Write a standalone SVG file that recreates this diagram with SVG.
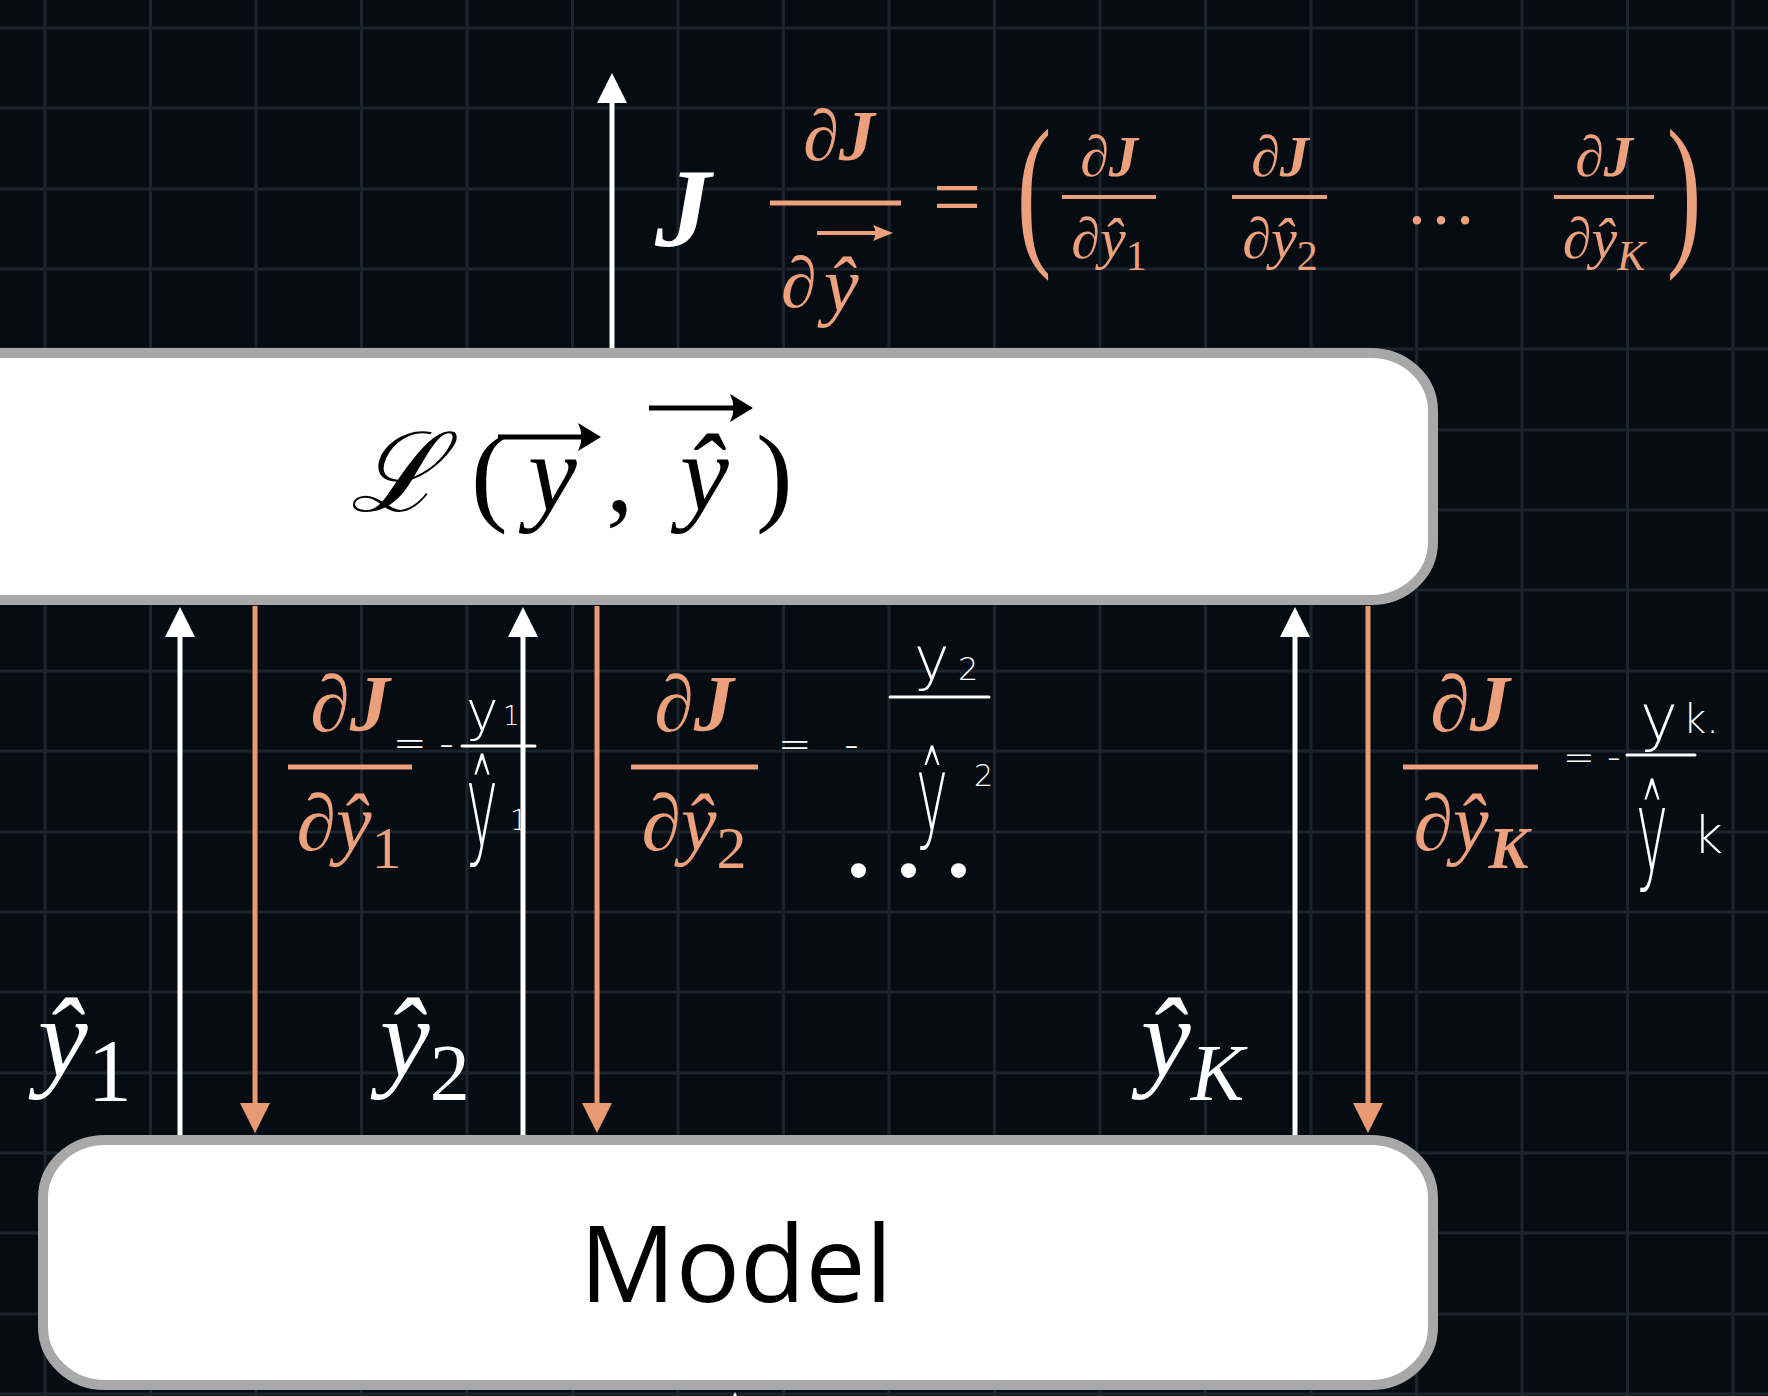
<svg xmlns="http://www.w3.org/2000/svg" width="1768" height="1396" viewBox="0 0 1768 1396">
<defs>
<style>
.bg{fill:#070c13}
.grid{stroke:#1b232c;stroke-width:3;fill:none}
.box{fill:#fff;stroke:#a8a8a8;stroke-width:10}
.wl{stroke:#fff;stroke-width:5;fill:none}
.ol{stroke:#e99a72;stroke-width:5;fill:none}
.m{font-family:"Liberation Serif","DejaVu Serif",serif;font-style:italic}
.up{font-style:normal}
.nb{font-weight:normal}
.or{fill:#eca07c}
.wh{fill:#fff}
.bk{fill:#000}
.b{font-weight:bold}
.bar{stroke:#eca07c;stroke-width:5}
.bar4{stroke:#eca07c;stroke-width:4}
.hw{font-family:"DejaVu Sans","Liberation Sans",sans-serif;font-weight:200;fill:#fff}
.hwl{stroke:#fff;stroke-width:3;stroke-linecap:round;fill:none}
.lbl{font-family:"Open Sans","Liberation Sans",sans-serif}
</style>
<marker id="aw" markerUnits="userSpaceOnUse" markerWidth="30" markerHeight="30" viewBox="0 0 30 30" refX="2" refY="15" orient="auto"><path d="M0,0 L30,15 L0,30 Z" fill="#fff"/></marker>
<marker id="ao" markerUnits="userSpaceOnUse" markerWidth="30" markerHeight="30" viewBox="0 0 30 30" refX="2" refY="15" orient="auto"><path d="M0,0 L30,15 L0,30 Z" fill="#e99a72"/></marker>
</defs>
<rect class="bg" x="0" y="0" width="1768" height="1396"/>
<path class="grid" d="M45,0V1396M150.5,0V1396M256,0V1396M361.5,0V1396M467,0V1396M572.5,0V1396M678,0V1396M783.5,0V1396M889,0V1396M994.5,0V1396M1100,0V1396M1205.5,0V1396M1311,0V1396M1416.5,0V1396M1522,0V1396M1627.5,0V1396M1733,0V1396M0,28H1768M0,108H1768M0,189H1768M0,269H1768M0,349H1768M0,430H1768M0,510H1768M0,590H1768M0,671H1768M0,751H1768M0,832H1768M0,912H1768M0,992H1768M0,1073H1768M0,1153H1768M0,1233H1768M0,1314H1768M0,1394H1768"/>

<g id="connectors">
<path class="wl" d="M612,349V101" marker-end="url(#aw)"/>
<path class="wl" d="M180,1135V635" marker-end="url(#aw)"/>
<path class="wl" d="M523,1135V635" marker-end="url(#aw)"/>
<path class="wl" d="M1295,1135V635" marker-end="url(#aw)"/>
<path class="ol" d="M255,606V1105" marker-end="url(#ao)"/>
<path class="ol" d="M597,606V1105" marker-end="url(#ao)"/>
<path class="ol" d="M1368,606V1105" marker-end="url(#ao)"/>
<path class="wl" d="M735,1500V1420" marker-end="url(#aw)"/>
</g>

<g id="loss">
<rect class="box" x="-60" y="353" width="1493" height="247" rx="62" ry="58"/>
<text class="m bk" y="511" font-size="110"><tspan x="350">ℒ</tspan><tspan class="up" x="471">(</tspan><tspan x="528">y</tspan><tspan class="up" x="606">,</tspan><tspan x="680">ŷ</tspan><tspan class="up" x="756">)</tspan></text>
<path d="M498,437H590" stroke="#000" stroke-width="5"/>
<path d="M601,437L578,423Q585,437 578,451Z" fill="#000"/>
<path d="M649,408H742" stroke="#000" stroke-width="5"/>
<path d="M753,408L730,394Q737,408 730,422Z" fill="#000"/>
</g>

<g id="model">
<rect class="box" x="43" y="1140" width="1390" height="245" rx="62" ry="58"/>
<text class="lbl bk" x="736" y="1302" font-size="107" text-anchor="middle">Model</text>
</g>

<g id="top-formula">
<text class="m b wh" x="655" y="246" font-size="112">J</text>
<text class="m b or" x="839" y="160" font-size="72" text-anchor="middle">∂J</text>
<line class="bar" x1="770" y1="203" x2="901" y2="203"/>
<text class="m b or" x="781" y="307" font-size="72">∂</text>
<text class="m or" x="824" y="311" font-size="78">ŷ</text>
<path d="M817,233H884" stroke="#eca07c" stroke-width="4"/>
<path d="M893,233L873,225Q878,233 873,241Z" fill="#eca07c"/>
<text class="m up or" x="957" y="226" font-size="86" text-anchor="middle">=</text>
<text class="m up or" transform="translate(1034,245) scale(0.62,1)" font-size="168" text-anchor="middle">(</text>
<text class="m b or" x="1109" y="176" font-size="58" text-anchor="middle">∂J</text>
<line class="bar4" x1="1062" y1="197" x2="1156" y2="197"/>
<text class="m b or" x="1109" y="258" font-size="58" text-anchor="middle">∂<tspan class="nb">ŷ</tspan><tspan class="up nb" font-size="42" dy="12">1</tspan></text>
<text class="m b or" x="1280" y="176" font-size="58" text-anchor="middle">∂J</text>
<line class="bar4" x1="1232" y1="197" x2="1327" y2="197"/>
<text class="m b or" x="1280" y="258" font-size="58" text-anchor="middle">∂<tspan class="nb">ŷ</tspan><tspan class="up nb" font-size="42" dy="12">2</tspan></text>
<text class="m up or" x="1441" y="224" font-size="72" text-anchor="middle">…</text>
<text class="m b or" x="1604" y="176" font-size="58" text-anchor="middle">∂J</text>
<line class="bar4" x1="1554" y1="197" x2="1654" y2="197"/>
<text class="m b or" x="1604" y="258" font-size="58" text-anchor="middle">∂<tspan class="nb">ŷ</tspan><tspan class="nb" font-size="42" dy="12">K</tspan></text>
<text class="m up or" transform="translate(1684,245) scale(0.62,1)" font-size="168" text-anchor="middle">)</text>
</g>

<g id="grad-1">
<text class="m b or" x="350" y="731" font-size="80" text-anchor="middle">∂J</text>
<line class="bar" x1="288" y1="767" x2="412" y2="767"/>
<text class="m b or" x="349" y="850" font-size="80" text-anchor="middle">∂<tspan class="nb">ŷ</tspan><tspan class="up nb" font-size="60" dy="18">1</tspan></text>
</g>
<g id="grad-2">
<text class="m b or" x="694" y="731" font-size="80" text-anchor="middle">∂J</text>
<line class="bar" x1="631" y1="767" x2="758" y2="767"/>
<text class="m b or" x="694" y="850" font-size="80" text-anchor="middle">∂<tspan class="nb">ŷ</tspan><tspan class="up nb" font-size="60" dy="18">2</tspan></text>
</g>
<g id="grad-k">
<text class="m b or" x="1470" y="731" font-size="80" text-anchor="middle">∂J</text>
<line class="bar" x1="1403" y1="767" x2="1538" y2="767"/>
<text class="m b or" x="1471" y="850" font-size="80" text-anchor="middle">∂<tspan class="nb">ŷ</tspan><tspan class="b" font-size="60" dy="18">K</tspan></text>
</g>

<text class="m up b wh" x="847" y="877" font-size="92" letter-spacing="27">...</text>

<g id="labels">
<text class="m wh" x="38" y="1076" font-size="112">ŷ<tspan class="up" font-size="88" dy="24">1</tspan></text>
<text class="m wh" x="380" y="1076" font-size="112">ŷ<tspan class="up" font-size="80" dy="24">2</tspan></text>
<text class="m wh" x="1141" y="1076" font-size="112">ŷ<tspan font-size="80" dy="24">K</tspan></text>
</g>

<g id="notes">
<text class="hw" x="393" y="757" font-size="40">= -</text>
<text class="hw" x="466" y="730" font-size="55">y</text>
<text class="hw" x="503" y="725" font-size="26">1</text>
<path class="hwl" d="M462,746H535"/>
<text class="hw" transform="translate(466,845) scale(0.9,1.9)" font-size="60">ŷ</text>
<text class="hw" x="510" y="830" font-size="28">1</text>

<text class="hw" x="778" y="758" font-size="40" letter-spacing="10">= -</text>
<text class="hw" x="914" y="680" font-size="60">y</text>
<text class="hw" x="958" y="680" font-size="32">2</text>
<path class="hwl" d="M890,697H989"/>
<text class="hw" transform="translate(916,830) scale(0.9,1.75)" font-size="60">ŷ</text>
<text class="hw" x="974" y="786" font-size="30">2</text>

<text class="hw" x="1563" y="770" font-size="38">= -</text>
<text class="hw" x="1640" y="740" font-size="64">y</text>
<text class="hw" x="1683" y="733" font-size="40">k.</text>
<path class="hwl" d="M1627,755H1695"/>
<text class="hw" transform="translate(1636,870) scale(0.9,1.9)" font-size="60">ŷ</text>
<text class="hw" x="1693" y="853" font-size="52">k</text>
</g>
</svg>
